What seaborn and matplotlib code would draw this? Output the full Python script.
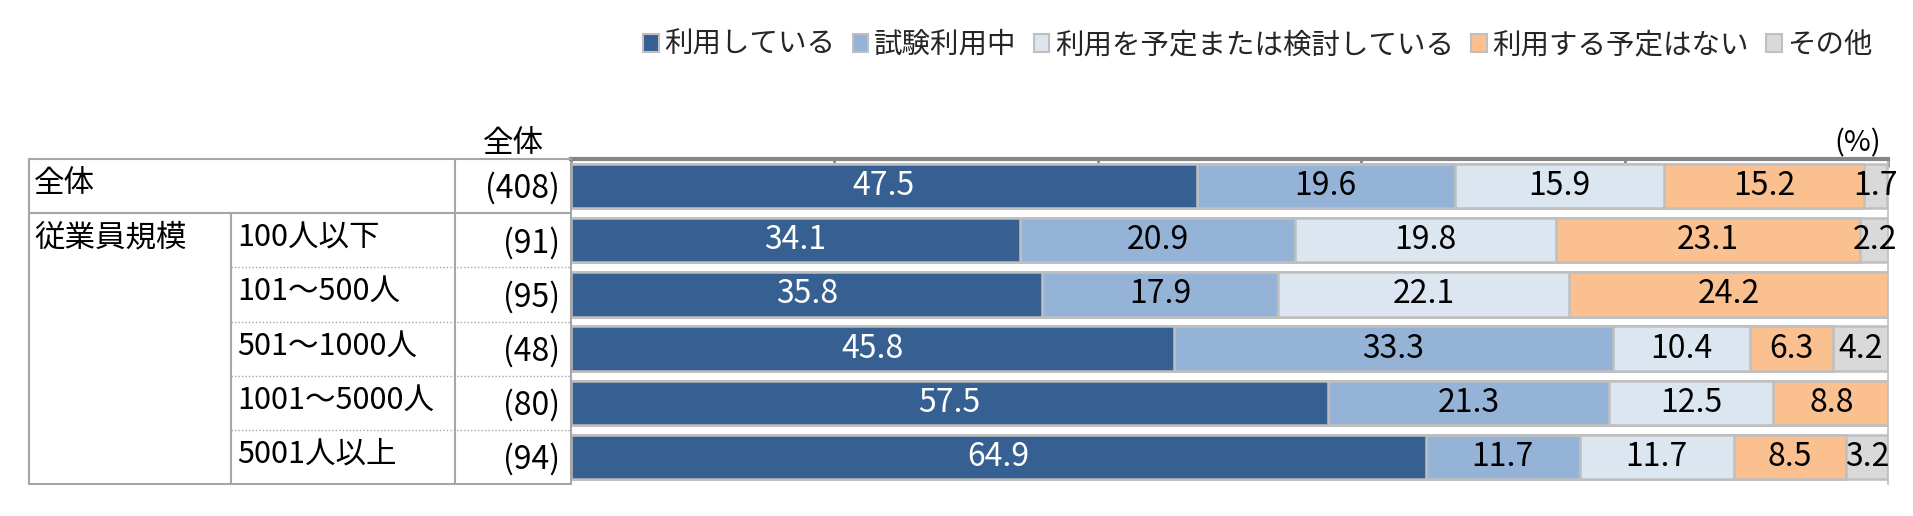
import matplotlib
matplotlib.use("Agg")
import matplotlib.pyplot as plt
import seaborn as sns
import numpy as np
import pandas as pd
from matplotlib.patches import Patch
from matplotlib.lines import Line2D
from matplotlib.transforms import blended_transform_factory

categories = ["全体", "100人以下", "101～500人", "501～1000人", "1001～5000人", "5001人以上"]
counts = [408, 91, 95, 48, 80, 94]
series_names = ["利用している", "試験利用中", "利用を予定または検討している", "利用する予定はない", "その他"]
using = [47.5, 34.1, 35.8, 45.8, 57.5, 64.9]
trial = [19.6, 20.9, 17.9, 33.3, 21.3, 11.7]
planning = [15.9, 19.8, 22.1, 10.4, 12.5, 11.7]
no_plan = [15.2, 23.1, 24.2, 6.3, 8.8, 8.5]
other = [1.7, 2.2, 0.0, 4.2, 0.0, 3.2]
group_label = "従業員規模"
header_label = "全体"
ticks = [0, 20, 40, 60, 80, 100]

colors = ["#366092", "#95B3D7", "#DCE6F1", "#FAC090", "#D9D9D9"]
text_colors = ["white", "black", "black", "black", "black"]

sns.set_theme(style="white")
plt.rcParams['font.family'] = ['Noto Sans CJK JP', 'DejaVu Sans']
num_family = ['Liberation Sans Narrow', 'Noto Sans CJK JP', 'DejaVu Sans']

W, H = 1913, 516
fig = plt.figure(figsize=(W / 100, H / 100), dpi=100)
ax_l, ax_r, ax_t, ax_b = 571, 1888, 159, 484
ax = fig.add_axes([ax_l / W, 1 - ax_b / H, (ax_r - ax_l) / W, (ax_b - ax_t) / H])

series = [using, trial, planning, no_plan, other]
vals = np.array(series)
cums = np.cumsum(vals, axis=0)

df = pd.DataFrame({"cat": categories})
for i in range(len(series) - 1, -1, -1):
    df["c"] = cums[i]
    sns.barplot(data=df, x="c", y="cat", orient="h", color=colors[i], saturation=1,
                width=0.82, edgecolor="#BFBFBF", linewidth=1.8, ax=ax, order=categories)

for i in range(len(series)):
    for j in range(len(categories)):
        v = vals[i, j]
        if v <= 0:
            continue
        xc = cums[i, j] - v / 2
        ax.text(xc, j, f"{v:.1f}", ha="center", va="center", fontsize=23,
                family=num_family, color=text_colors[i], clip_on=False)

ax.set_xlim(0, 100)
ax.set_ylim(5.5, -0.5)
ax.set_xlabel("")
ax.set_ylabel("")
ax.set_yticks([])
ax.set_xticks(ticks)
ax.xaxis.tick_top()
ax.tick_params(axis="x", which="both", direction="in", length=6, width=2, color="#868686",
               labeltop=False, labelbottom=False, top=True, bottom=False)
ax.spines["bottom"].set_visible(False)
ax.spines["top"].set_color("#868686")
ax.spines["top"].set_linewidth(3)
ax.spines["right"].set_color("#BFBFBF")
ax.spines["right"].set_linewidth(1.2)
ax.spines["left"].set_color("#A6A6A6")
ax.spines["left"].set_linewidth(1.5)

# table lines
tr = blended_transform_factory(fig.transFigure, ax.transData)
lc = "#A6A6A6"
def fx(px):
    return px / W
def hline(y, x0, x1, ls="-", lw=1.5):
    fig.add_artist(Line2D([fx(x0), fx(x1)], [y, y], transform=tr, color=lc, lw=lw, ls=ls, clip_on=False))
def vline(x, y0, y1):
    fig.add_artist(Line2D([fx(x), fx(x)], [y0, y1], transform=tr, color=lc, lw=1.5, clip_on=False))

hline(-0.5, 29, ax_l)
hline(0.5, 29, ax_l)
hline(5.5, 29, ax_l)
for y in [1.5, 2.5, 3.5, 4.5]:
    hline(y, 231, ax_l, ls=(0, (1, 1.5)), lw=1.0)
vline(29, -0.5, 5.5)
vline(231, 0.5, 5.5)
vline(455, -0.5, 5.5)

# table texts
fig.text(fx(34), -0.05, categories[0], transform=tr, ha="left", va="center", fontsize=22, color="black")
fig.text(fx(34), 0.95, group_label, transform=tr, ha="left", va="center", fontsize=22, color="black")
for j in range(1, len(categories)):
    fig.text(fx(237), j - 0.05, categories[j], transform=tr, ha="left", va="center", fontsize=22, color="black")
for j, c in enumerate(counts):
    fig.text(fx(560), j + 0.05, f"({c})", transform=tr, ha="right", va="center", fontsize=23,
             family=num_family, color="black")

fig.text(fx(513), 1 - 143 / H, header_label, ha="center", va="center", fontsize=22, color="black")
fig.text(fx(1858), 1 - 143 / H, "(%)", ha="center", va="center", fontsize=21,
         family=num_family, color="black")

handles = [Patch(facecolor=colors[i], edgecolor="#BFBFBF", linewidth=1.5) for i in range(len(series))]
fig.legend(handles, series_names, loc="center", bbox_to_anchor=(1258 / W, 1 - 45 / H), ncol=5,
           frameon=False, fontsize=20.5, handlelength=0.55, handleheight=0.55,
           handletextpad=0.2, columnspacing=0.6, borderaxespad=0)

fig.savefig("out.png", dpi=100, facecolor="white")
